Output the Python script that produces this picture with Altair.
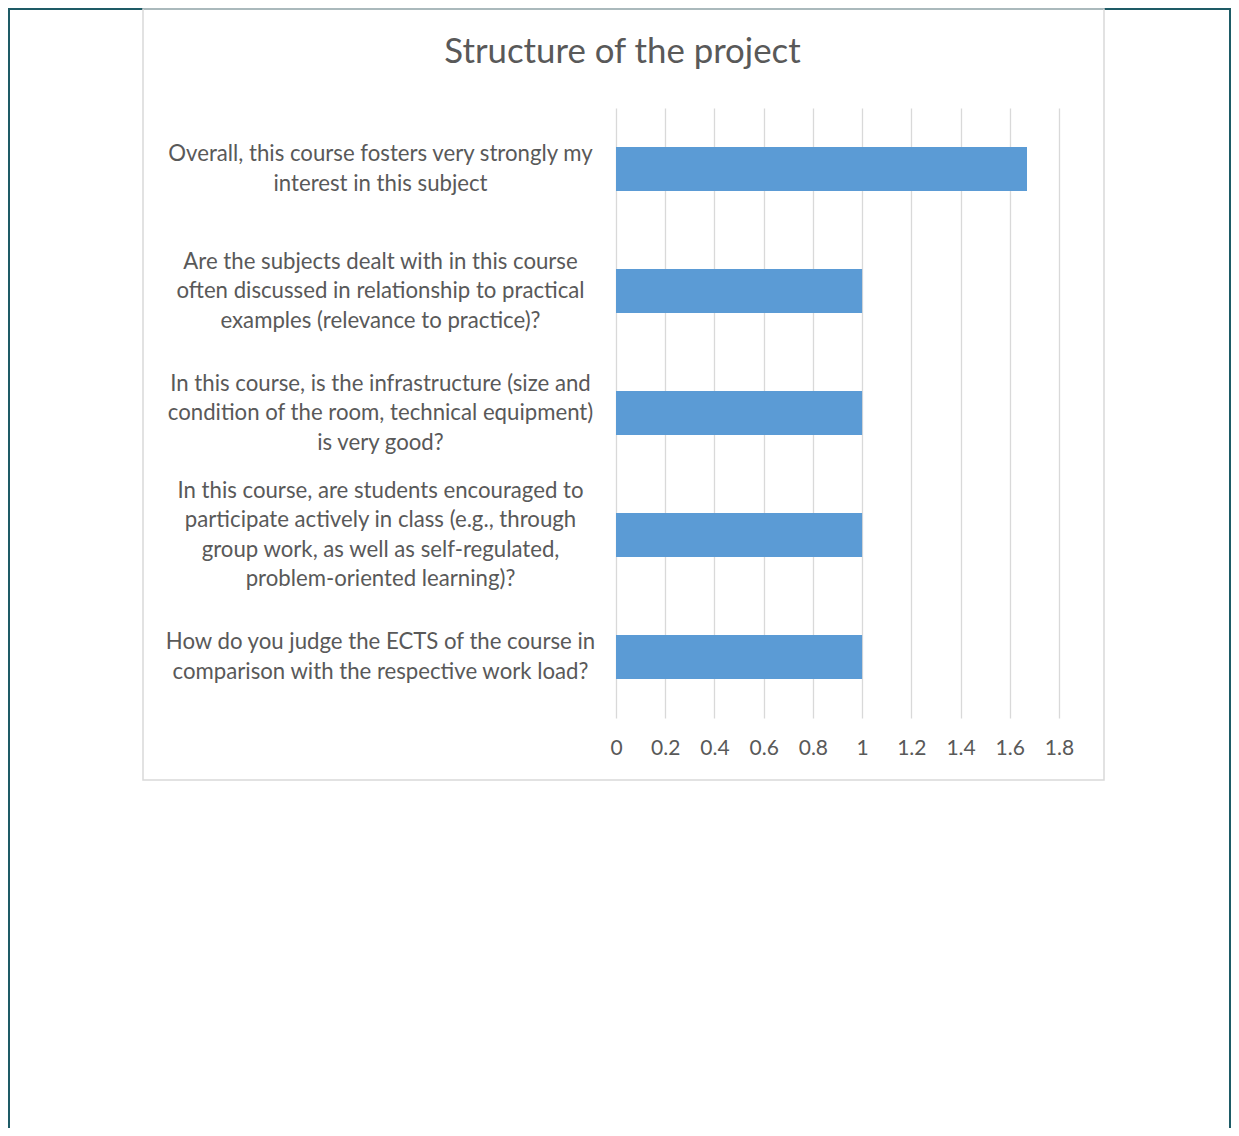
import altair as alt
import pandas as pd

question_lines = [
    ["Overall, this course fosters very strongly my", "interest in this subject"],
    ["Are the subjects dealt with in this course", "often discussed in relationship to practical", "examples (relevance to practice)?"],
    ["In this course, is the infrastructure (size and", "condition of the room, technical equipment)", "is very good?"],
    ["In this course, are students encouraged to", "participate actively in class (e.g., through", "group work, as well as self-regulated,", "problem-oriented learning)?"],
    ["How do you judge the ECTS of the course in", "comparison with the respective work load?"],
]
values = [1.67, 1.0, 1.0, 1.0, 1.0]
x_ticks = [0, 0.2, 0.4, 0.6, 0.8, 1, 1.2, 1.4, 1.6, 1.8]
title_text = "Structure of the project"

questions = ["|".join(l) for l in question_lines]
df = pd.DataFrame({"question": questions, "value": values})

FONT = "Lato"
TEXT_COLOR = "#595959"
LINE_H = 29.5
HALF = LINE_H / 2
N_LINES = "length(split(datum.value, '|'))"

bars = alt.Chart(df).mark_bar(color="#5B9BD5").encode(
    x=alt.X(
        "value:Q",
        scale=alt.Scale(domain=[0, 1.8], nice=False, zero=True),
        axis=alt.Axis(
            title=None,
            values=x_ticks,
            format="~g",
            grid=True,
            gridColor="#d9d9d9",
            gridWidth=1.3,
            domain=False,
            ticks=False,
            labelFlush=False,
            labelPadding=19,
            labelFontSize=21,
            labelColor=TEXT_COLOR,
            labelFont=FONT,
        ),
    ),
    y=alt.Y(
        "question:N",
        sort=questions,
        scale=alt.Scale(paddingInner=0.64, paddingOuter=0.32),
        axis=alt.Axis(
            title=None,
            grid=False,
            domain=False,
            ticks=False,
            labelExpr="split(datum.label, '|')",
            labelAlign="center",
            # centre each multi-line label block on its bar
            labelBaseline={
                "condition": {"test": N_LINES + " >= 4", "value": "line-bottom"},
                "value": "middle",
            },
            labelOffset={
                "condition": {"test": N_LINES + " >= 3", "value": -2 * HALF},
                "value": -HALF,
            },
            labelPadding=236,
            labelLimit=0,
            labelFontSize=22.2,
            labelLineHeight=LINE_H,
            labelColor=TEXT_COLOR,
            labelFont=FONT,
        ),
    ),
)

frame_data = alt.Data(values=[{"k": 1}])

grey_box = alt.Chart(frame_data).mark_rect(
    fillOpacity=0, stroke="#d9d9d9", strokeWidth=1.5
).encode(
    x=alt.value(-473), x2=alt.value(488), y=alt.value(-99), y2=alt.value(672)
)

teal_frame = alt.Chart(frame_data).mark_rect(
    fillOpacity=0, stroke="#1e5b66", strokeWidth=2
).encode(
    x=alt.value(-607), x2=alt.value(614), y=alt.value(-99), y2=alt.value(1040)
)

chart = alt.layer(teal_frame, grey_box, bars).properties(
    width=443,
    height=610,
    padding={"left": 608, "top": 100, "right": 172, "bottom": 410},
    autosize=alt.AutoSizeParams(type="none"),
    background="white",
    title=alt.TitleParams(
        text=title_text,
        anchor="middle",
        frame="group",
        baseline="alphabetic",
        offset=0,
        dx=-215,
        dy=90,
        fontSize=34.8,
        font=FONT,
        fontWeight="normal",
        color=TEXT_COLOR,
    ),
).configure_view(stroke=None)

chart.save("out.html", embed_options={"renderer": "svg", "actions": False})
